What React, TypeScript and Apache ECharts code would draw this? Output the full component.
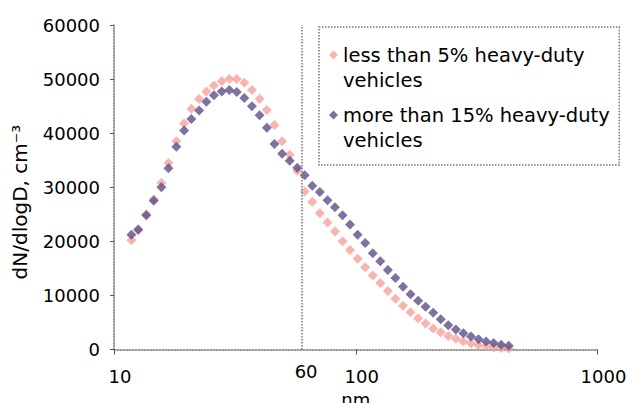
import React, { useEffect, useRef } from "react";
import * as echarts from "echarts";

// particle diameters (nm), 32 channels per decade
const diameters = [
  11.8, 12.6, 13.6, 14.6, 15.7, 16.8, 18.1, 19.5, 20.9, 22.5, 24.1, 25.9, 27.9,
  30.0, 32.2, 34.6, 37.2, 40.0, 42.9, 46.1, 49.6, 53.3, 57.3, 61.5, 66.1, 71.0,
  76.4, 82.0, 88.2, 94.7, 101.8, 109.4, 117.6, 126.3, 135.8, 145.9, 156.8, 168.5,
  181.1, 194.6, 209.1, 224.7, 241.4, 259.5, 278.8, 299.6, 322.0, 346.0, 371.8,
  399.5, 429.4,
];

const lessThan5 = [
  20200, 22000, 25000, 27800, 30800, 34500, 38500, 41800, 44500, 46300, 47700,
  48800, 49600, 50000, 50000, 49300, 48000, 46300, 44300, 41500, 38500, 36000,
  33000, 29200, 27300, 25200, 23500, 21800, 20000, 18400, 16800, 15200, 13700,
  12300, 10800, 9400, 8100, 6900, 5800, 4800, 3900, 3200, 2500, 2000, 1500,
  1100, 800, 600, 400, 300, 200,
];

const moreThan15 = [
  21200, 22200, 24800, 27500, 30000, 33500, 37500, 40500, 42600, 44200, 45800,
  47000, 47700, 48000, 47600, 46500, 45000, 43300, 41000, 38000, 36200, 34900,
  33600, 32200, 30300, 29100, 27600, 26300, 24800, 23100, 21200, 19700, 17800,
  16300, 14700, 13200, 11600, 10200, 9000, 7900, 6800, 5600, 4500, 3700, 3000,
  2400, 1900, 1500, 1200, 900, 700,
];

const seriesNames = [
  "less than 5% heavy-duty vehicles",
  "more than 15% heavy-duty vehicles",
];
const markerValue = 60;
const yTitle = "dN/dlogD, cm⁻³";
const xTitle = "nm";

const FONT = "DejaVu Sans";

export default function App() {
  const ref = useRef<HTMLDivElement>(null);
  useEffect(() => {
    const chart = echarts.init(ref.current!, null, { renderer: "svg" });
    const axisLineStyle = { color: "#7a7470", width: 1.5, type: "dotted" as const };
    chart.setOption({
      animation: false,
      backgroundColor: "#fff",
      grid: { left: 114, right: 31.5, top: 25, bottom: 53.5, outerBoundsMode: "none", containLabel: false },
      xAxis: {
        type: "log",
        logBase: 10,
        min: 10,
        max: 1000,
        name: xTitle,
        nameLocation: "middle",
        nameGap: 39,
        nameTextStyle: { fontFamily: FONT, fontSize: 18, color: "#000", verticalAlign: "top" },
        axisLine: { show: true, lineStyle: axisLineStyle },
        axisTick: { show: true, inside: false, length: 5, lineStyle: { color: "#555" } },
        splitLine: { show: false },
        minorTick: { show: false },
        axisLabel: {
          fontFamily: FONT,
          fontSize: 18,
          color: "#000",
          margin: 18,
          padding: [0, 0, 0, 12],
          formatter: (v: number) => String(v),
        },
      },
      yAxis: {
        type: "value",
        min: 0,
        max: 60000,
        interval: 10000,
        axisLine: { show: true, lineStyle: axisLineStyle },
        axisTick: { show: true, inside: false, length: 4, lineStyle: { color: "#555" } },
        splitLine: { show: false },
        axisLabel: {
          fontFamily: FONT,
          fontSize: 18,
          color: "#000",
          margin: 14,
          formatter: (v: number) => String(v),
        },
      },
      legend: {
        orient: "vertical",
        left: 319,
        top: 27,
        itemWidth: 9,
        itemHeight: 9,
        itemGap: -15,
        padding: [-9.5, 9.5, 12.5, 10],
        borderColor: "#777",
        borderWidth: 1.5,
        borderType: "dotted",
        backgroundColor: "#fff",
        formatter: (n: string) => "\n" + n.replace(" vehicles", "\nvehicles"),
        textStyle: {
          fontFamily: FONT,
          fontSize: 19.5,
          color: "#000",
          lineHeight: 25,
        },
        data: seriesNames,
      },
      graphic: [
        {
          type: "text",
          x: 20,
          y: 202,
          rotation: Math.PI / 2,
          style: {
            text: yTitle,
            fontFamily: FONT,
            fontSize: 20,
            fill: "#000",
            textAlign: "center",
            textVerticalAlign: "middle",
          },
        },
      ],
      series: [
        {
          name: seriesNames[0],
          type: "scatter",
          symbol: "diamond",
          symbolSize: 10,
          itemStyle: { color: "#f6a29c" },
          data: diameters.map((d, i) => [d, lessThan5[i]]),
          markLine: {
            silent: true,
            symbol: "none",
            lineStyle: { color: "#7a7470", width: 1.5, type: "dotted" },
            label: {
              show: true,
              position: "start",
              formatter: String(markerValue),
              fontFamily: FONT,
              fontSize: 18,
              color: "#000",
              distance: 13,
              padding: [0, 0, 0, 8],
            },
            data: [{ xAxis: markerValue }],
          },
        },
        {
          name: seriesNames[1],
          type: "scatter",
          symbol: "diamond",
          symbolSize: 10,
          itemStyle: { color: "#5d4f88" },
          data: diameters.map((d, i) => [d, moreThan15[i]]),
        },
      ],
    });
    return () => chart.dispose();
  }, []);
  return (
    <div
      ref={ref}
      style={{ position: "fixed", left: 0, top: 0, width: 629, height: 403 }}
    />
  );
}
